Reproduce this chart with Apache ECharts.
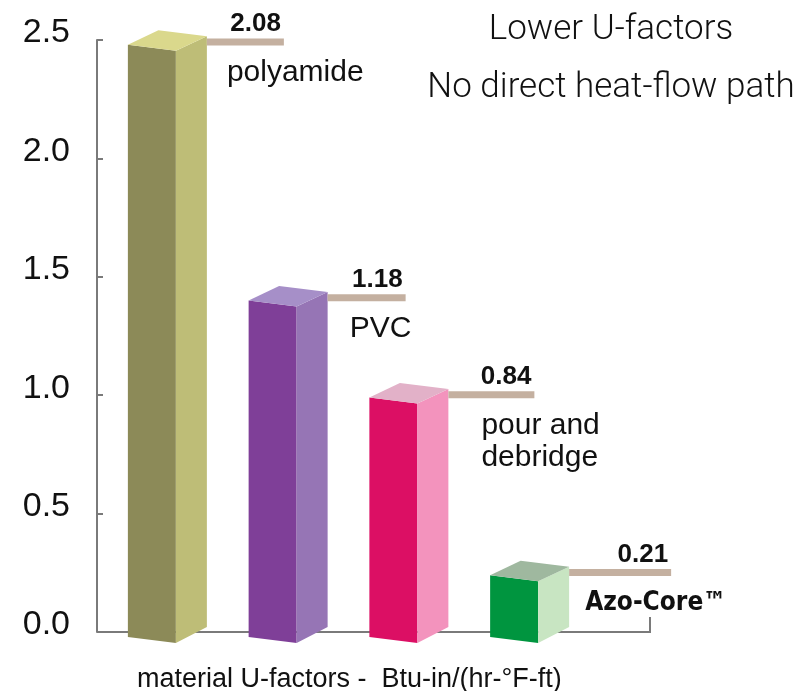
<!DOCTYPE html>
<html>
<head>
<meta charset="utf-8">
<script src="https://cdn.jsdelivr.net/npm/echarts@6/dist/echarts.min.js"></script>
<style>
html, body { margin: 0; padding: 0; background: #fff; }
#chart { width: 798px; height: 691px; }
</style>
</head>
<body>
<div id="chart"></div>
<script>
// data
var categories = ['polyamide', 'PVC', 'pour and\ndebridge', 'Azo-Core™'];
var barHeights = [2.48, 1.40, 0.99, 0.24];
var valueLabels = ['2.08', '1.18', '0.84', '0.21'];

// front / side / top colours of each box
var faceColors = [
	['#8c8a58', '#bebd77', '#dad88c'],
	['#7f3f98', '#9675b5', '#a68fc8'],
	['#dc0f64', '#f393bd', '#e2b1c8'],
	['#00953f', '#c8e5c2', '#9fb89f']
];
var leaderLen = [77, 78, 86, 102];
var nameDx = [20, 22, 33, 16];
var nameBold = [false, false, false, true];

function renderBox(params, api) {
	var i = api.value(0);
	var top = api.coord([i, api.value(1)]);
	var base = api.coord([i, 0]);
	var c = top[0], yt = top[1], yb = base[1];
	var col = faceColors[i];
	var fl = c - 29.5, fr = c + 18.5, sr = c + 49.5;
	var ly = yt - 2.7;
	var end = sr + leaderLen[i];
	return {
		type: 'group',
		children: [
			{ type: 'polygon', shape: { points: [[fl, yt], [fr, yt + 6], [fr, yb + 11], [fl, yb + 5]] }, style: { fill: col[0] } },
			{ type: 'polygon', shape: { points: [[fr, yt + 6], [sr, yt - 8.5], [sr, yb - 5], [fr, yb + 11]] }, style: { fill: col[1] } },
			{ type: 'polygon', shape: { points: [[fl, yt], [c + 1, yt - 14.5], [sr, yt - 8.5], [fr, yt + 6]] }, style: { fill: col[2] } },
			{ type: 'rect', shape: { x: sr, y: ly - 3.5, width: leaderLen[i], height: 7 }, style: { fill: '#c4b0a0' } },
			{ type: 'text', x: end - 3, y: ly - 5, style: {
				text: valueLabels[i], fill: '#111', align: 'right', verticalAlign: 'bottom',
				font: 'bold 26px "Liberation Sans", Arial, sans-serif'
			} },
			{ type: 'text', x: sr + nameDx[i], y: ly + 15, style: {
				text: categories[i], fill: '#111', align: 'left', verticalAlign: 'top', lineHeight: 32,
				font: nameBold[i] ? 'bold 26px "Liberation Sans Narrow", "DejaVu Sans Condensed", sans-serif'
					: '30px "Liberation Sans", Arial, sans-serif'
			} }
		]
	};
}

var chart = echarts.init(document.getElementById('chart'));
chart.setOption({
	animation: false,
	title: [{
		text: 'Lower U-factors\nNo direct heat-flow path',
		left: 606, top: -4, textAlign: 'center',
		textStyle: { fontFamily: 'Roboto', fontWeight: 300, fontSize: 35, lineHeight: 58, color: '#111' }
	}, {
		text: 'material U-factors -  Btu-in/(hr-°F-ft)',
		left: 132, top: 661,
		textStyle: { fontFamily: 'Liberation Sans', fontWeight: 'normal', fontSize: 27, color: '#111' }
	}],
	grid: { left: 97, top: 40, width: 483, height: 592 },
	xAxis: {
		type: 'category', data: categories,
		axisLine: { show: false }, axisTick: { show: false }, axisLabel: { show: false }
	},
	yAxis: {
		type: 'value', min: 0, max: 2.5, interval: 0.5,
		axisLine: { show: true, lineStyle: { color: '#7a7a7a', width: 2 } },
		axisTick: { show: true, inside: true, length: 6, lineStyle: { color: '#7a7a7a', width: 2 } },
		splitLine: { show: false },
		axisLabel: {
			margin: 27, fontSize: 34, color: '#111', fontFamily: 'Liberation Sans',
			verticalAlign: 'bottom', lineHeight: 14,
			formatter: function (v) { return v.toFixed(1); }
		}
	},
	graphic: [{
		type: 'polyline', z: 1,
		shape: { points: [[97, 632], [650, 632], [650, 617]] },
		style: { stroke: '#7a7a7a', lineWidth: 2, fill: null }
	}],
	series: [{
		type: 'custom', z: 10,
		renderItem: renderBox,
		data: categories.map(function (c, i) { return [i, barHeights[i]]; })
	}]
});
</script>
</body>
</html>
